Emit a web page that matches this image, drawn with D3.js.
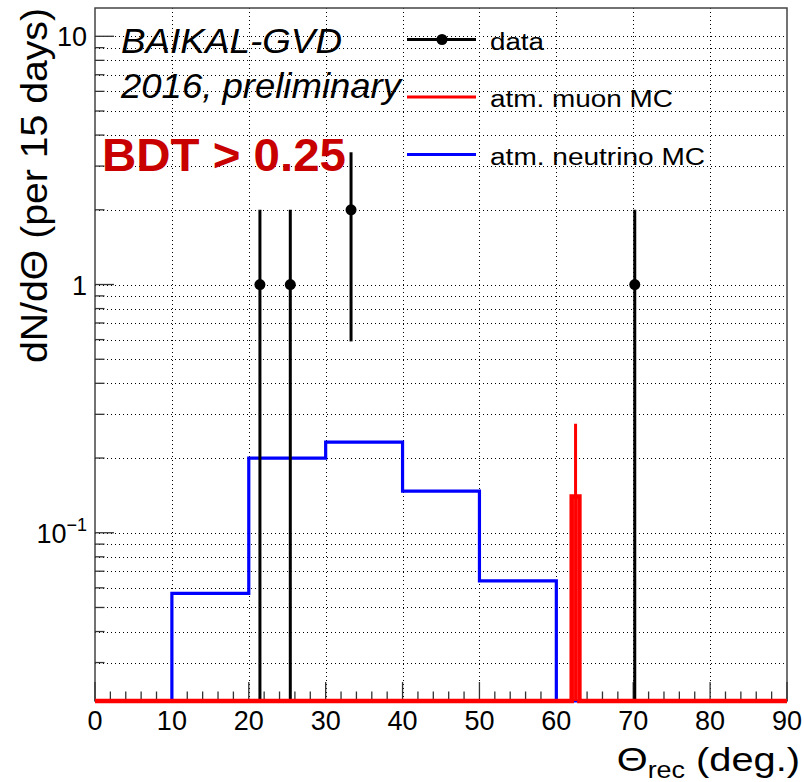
<!DOCTYPE html>
<html>
<head>
<meta charset="utf-8">
<script src="https://cdn.jsdelivr.net/npm/d3@7"></script>
<style>
  body { margin: 0; background: #fff; }
  svg { display: block; font-family: "Liberation Sans", Arial, sans-serif; }
</style>
</head>
<body>
<div id="chart"></div>
<script>
// Data
const nuEdges = [0, 10, 20, 30, 40, 50, 60, 70, 80, 90];
const nuValues = [0, 0.057, 0.2, 0.232, 0.147, 0.064, 0, 0, 0];

const muEdges = [0, 62, 63, 90];
const muValues = [0, 0.14, 0];
const muErrors = [0, 0.135, 0];

const dataTheta = [21.45, 25.4, 33.3, 70.2];
const dataCounts = [1, 1, 2, 1];
const dataErrors = [1, 1, 1.41, 1];

const xTicks = [0, 10, 20, 30, 40, 50, 60, 70, 80, 90];
const yMajor = [0.1, 1, 10];
const yLabels = [['10', '\u22121'], ['1', ''], ['10', '']];

const legendNames = ['data', 'atm. muon MC', 'atm. neutrino MC'];
const legendColors = ['#000', '#ff0000', '#0000ff'];

// Dimensions
const WIDTH = 804;
const HEIGHT = 782;
const PLOT = { LEFT: 95, RIGHT: 787, TOP: 8, BOTTOM: 701 };
const Y_MIN = 0.021;
const Y_MAX = 13;

const svg = d3
  .select('#chart')
  .append('svg')
  .attr('width', WIDTH)
  .attr('height', HEIGHT);

// Scales
const x = d3.scaleLinear().domain([0, 90]).range([PLOT.LEFT, PLOT.RIGHT]);
const y = d3.scaleLog().domain([Y_MIN, Y_MAX]).range([PLOT.BOTTOM, PLOT.TOP]);
const yc = (v) => y(Math.max(v, Y_MIN));

// all log ticks (major + minor) inside the range
const logTicks = [];
[0.01, 0.1, 1, 10].forEach((d) => {
  for (let k = 1; k <= 9; k++) {
    const v = k * d;
    if (v >= Y_MIN && v <= Y_MAX) logTicks.push(v);
  }
});

// Grid
const grid = svg.append('g').attr('stroke', '#000').attr('stroke-width', 1)
  .attr('stroke-dasharray', '1,3');
grid.selectAll('line.h').data(logTicks).enter().append('line')
  .attr('x1', PLOT.LEFT).attr('x2', PLOT.RIGHT)
  .attr('y1', (d) => Math.round(y(d)) + 0.5).attr('y2', (d) => Math.round(y(d)) + 0.5);
grid.selectAll('line.v').data(xTicks.slice(1, -1)).enter().append('line')
  .attr('y1', PLOT.TOP).attr('y2', PLOT.BOTTOM)
  .attr('x1', (d) => Math.round(x(d)) + 0.5).attr('x2', (d) => Math.round(x(d)) + 0.5);

// Frame
svg.append('rect')
  .attr('x', PLOT.LEFT).attr('y', PLOT.TOP)
  .attr('width', PLOT.RIGHT - PLOT.LEFT).attr('height', PLOT.BOTTOM - PLOT.TOP)
  .attr('fill', 'none').attr('stroke', '#444').attr('stroke-width', 1.5);

// Ticks
const ticks = svg.append('g').attr('stroke', '#333').attr('stroke-width', 1.3);
ticks.selectAll('line.y').data(logTicks).enter().append('line')
  .attr('x1', PLOT.LEFT)
  .attr('x2', (d) => PLOT.LEFT + (yMajor.includes(d) ? 19 : 9.5))
  .attr('y1', (d) => y(d)).attr('y2', (d) => y(d));
ticks.selectAll('line.x').data(d3.range(0, 91, 2)).enter().append('line')
  .attr('y1', PLOT.BOTTOM)
  .attr('y2', (d) => PLOT.BOTTOM - (d % 10 === 0 ? 19 : 9.5))
  .attr('x1', (d) => x(d)).attr('x2', (d) => x(d));

// Step path helper
const stepPath = (edges, vals) => {
  let p = `M${x(edges[0])},${yc(vals[0])}`;
  vals.forEach((v, i) => {
    p += `L${x(edges[i])},${yc(v)}L${x(edges[i + 1])},${yc(v)}`;
  });
  return p;
};

// Neutrino MC
svg.append('path')
  .attr('d', stepPath(nuEdges, nuValues))
  .attr('fill', 'none').attr('stroke', '#0000ff').attr('stroke-width', 3.2);

// Data
const pts = svg.append('g');
pts.selectAll('line').data(dataTheta).enter().append('line')
  .attr('x1', (d) => x(d)).attr('x2', (d) => x(d))
  .attr('y1', (d, i) => yc(dataCounts[i] - dataErrors[i]))
  .attr('y2', (d, i) => yc(dataCounts[i] + dataErrors[i]))
  .attr('stroke', '#000').attr('stroke-width', 3);
pts.selectAll('circle').data(dataTheta).enter().append('circle')
  .attr('cx', (d) => x(d)).attr('cy', (d, i) => y(dataCounts[i]))
  .attr('r', 5.5).attr('fill', '#000');

// Muon MC
svg.append('path')
  .attr('d', stepPath(muEdges, muValues))
  .attr('fill', 'none').attr('stroke', '#ff0000').attr('stroke-width', 4.5);
svg.selectAll('line.muerr').data(muValues.map((v, i) => i).filter((i) => muValues[i] > 0))
  .enter().append('line')
  .attr('x1', (i) => x((muEdges[i] + muEdges[i + 1]) / 2))
  .attr('x2', (i) => x((muEdges[i] + muEdges[i + 1]) / 2))
  .attr('y1', (i) => yc(muValues[i] - muErrors[i]))
  .attr('y2', (i) => yc(muValues[i] + muErrors[i]))
  .attr('stroke', '#ff0000').attr('stroke-width', 3);

// Y tick labels
const yl = svg.selectAll('text.yl').data(yMajor).enter().append('text')
  .attr('x', 87).attr('y', (d) => y(d) + 10)
  .attr('text-anchor', 'end').attr('font-size', 27);
yl.append('tspan').text((d, i) => yLabels[i][0]);
yl.append('tspan').attr('font-size', 18).attr('dy', -12).text((d, i) => yLabels[i][1]);

// X tick labels
svg.selectAll('text.xl').data(xTicks).enter().append('text')
  .attr('x', (d) => x(d)).attr('y', 730)
  .attr('text-anchor', 'middle').attr('font-size', 27)
  .text((d) => d);

// Axis titles
const xt = svg.append('text')
  .attr('transform', 'translate(800,771) scale(1.17,1)')
  .attr('text-anchor', 'end').attr('font-size', 34);
xt.append('tspan').text('\u0398');
xt.append('tspan').attr('font-size', 23).attr('dy', 7).text('rec');
xt.append('tspan').attr('dy', -7).text(' (deg.)');

svg.append('text')
  .attr('transform', 'translate(47,8) rotate(-90)')
  .attr('text-anchor', 'end').attr('font-size', 37)
  .attr('textLength', 355).attr('lengthAdjust', 'spacingAndGlyphs')
  .text('dN/d\u0398 (per 15 days)');

// Labels
svg.append('text').attr('x', 121).attr('y', 53)
  .attr('font-size', 35).attr('font-style', 'italic')
  .attr('textLength', 221).attr('lengthAdjust', 'spacingAndGlyphs')
  .text('BAIKAL-GVD');
svg.append('text').attr('x', 121).attr('y', 98)
  .attr('font-size', 35).attr('font-style', 'italic')
  .attr('textLength', 280).attr('lengthAdjust', 'spacingAndGlyphs')
  .text('2016, preliminary');
svg.append('text').attr('x', 102).attr('y', 171)
  .attr('font-size', 46).attr('font-weight', 'bold').attr('fill', '#c80000')
  .attr('textLength', 244).attr('lengthAdjust', 'spacingAndGlyphs')
  .text('BDT > 0.25');

// Legend
const legendY = [39.5, 97, 154.5];
const legendW = [54, 183, 215];
const leg = svg.append('g');
leg.selectAll('line').data(legendNames).enter().append('line')
  .attr('x1', 407).attr('x2', 476)
  .attr('y1', (d, i) => legendY[i]).attr('y2', (d, i) => legendY[i])
  .attr('stroke', (d, i) => legendColors[i]).attr('stroke-width', 3);
leg.append('circle').attr('cx', 442).attr('cy', legendY[0]).attr('r', 5.5).attr('fill', '#000');
leg.selectAll('text').data(legendNames).enter().append('text')
  .attr('x', 490).attr('y', (d, i) => legendY[i] + 10)
  .attr('font-size', 23)
  .attr('textLength', (d, i) => legendW[i]).attr('lengthAdjust', 'spacingAndGlyphs')
  .text((d) => d);
</script>
</body>
</html>
